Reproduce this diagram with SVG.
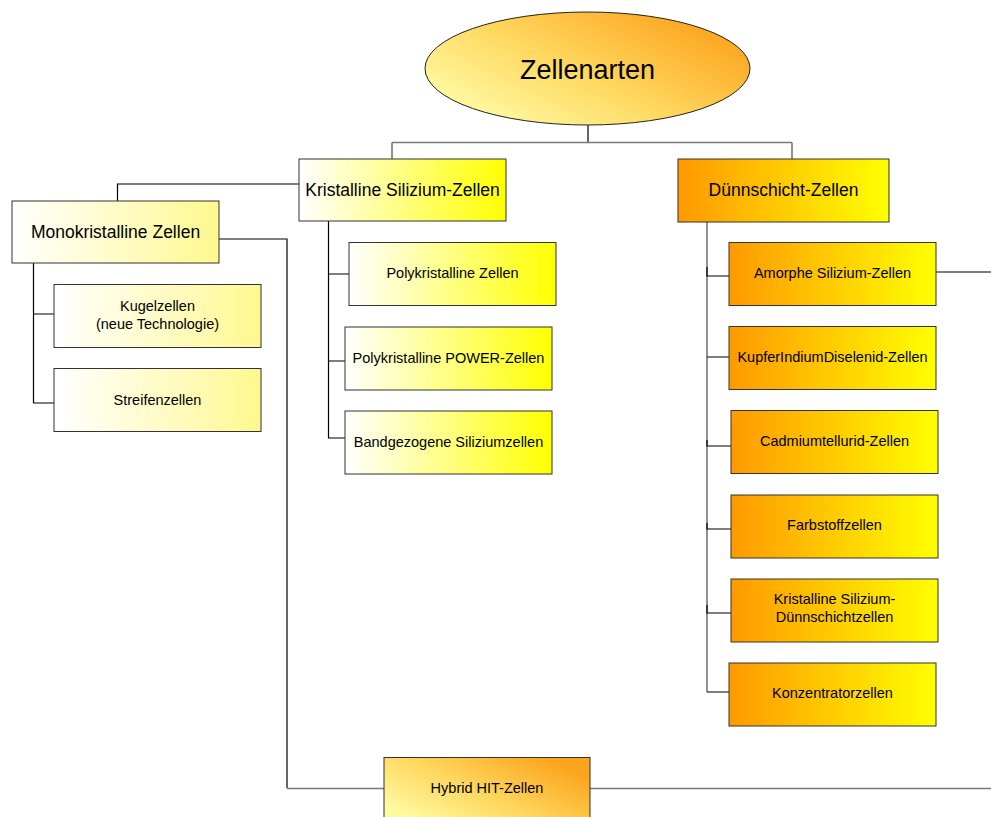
<svg xmlns="http://www.w3.org/2000/svg" width="991" height="817" viewBox="0 0 991 817">
<defs>
<linearGradient id="gBright" x1="0" y1="0" x2="1" y2="0">
<stop offset="0" stop-color="#FFFFFF"/><stop offset="1" stop-color="#FFFF00"/>
</linearGradient>
<linearGradient id="gPale" x1="0" y1="0" x2="1" y2="0">
<stop offset="0" stop-color="#FFFFFF"/><stop offset="1" stop-color="#FFF890"/>
</linearGradient>
<linearGradient id="gOrange" x1="0" y1="0" x2="1" y2="0">
<stop offset="0" stop-color="#FF9900"/><stop offset="1" stop-color="#FFFF00"/>
</linearGradient>
<linearGradient id="gSun" x1="0.05" y1="0.75" x2="0.9" y2="0.15">
<stop offset="0" stop-color="#FFF9A0"/><stop offset="0.45" stop-color="#FFD860"/><stop offset="1" stop-color="#FCA51E"/>
</linearGradient>
<style>
.box{stroke:#333;stroke-width:1}
.t{font-family:"Liberation Sans",Arial,sans-serif;fill:#000;text-anchor:middle}
.s{font-size:14.5px}
.m{font-size:17.5px}
.c{fill:none;stroke:#000;stroke-width:1.2}
.g{fill:none;stroke:#777;stroke-width:1.6}
</style>
</defs>
<g id="connectors">
<path class="c" d="M588,125 V142"/>
<path class="g" d="M392,142.5 H792 M392,142.5 V159 M792,142.5 V159"/>
<path class="c" d="M299,184 H117.5 V201"/>
<path class="c" d="M219,239 H287 V788"/>
<path class="g" d="M287,788.5 H384 M590,788.5 H991"/>
<path class="c" d="M33.5,263 V403 H54 M33.5,314 H54"/>
<path class="c" d="M328.5,221 V438 H345 M328.5,274 H349 M328.5,361 H345"/>
<path class="g" d="M707,222 V692"/>
<path class="c" d="M707,267 V276 H729 M707,357 H729 M707,440 V446 H731 M707,523 V529 H731 M707,605 V613 H731 M707,692 H729"/>
<path class="c" d="M936,272 H991"/>
</g>
<g id="root">
<ellipse cx="587.5" cy="68.5" rx="162.5" ry="56.5" fill="url(#gSun)" stroke="#222" stroke-width="1"/>
<text class="t" x="587.5" y="79" font-size="27">Zellenarten</text>
</g>
<g id="kristalline">
<rect class="box" x="299" y="159" width="207" height="62" fill="url(#gBright)"/>
<text class="t m" x="402.5" y="196">Kristalline Silizium-Zellen</text>
</g>
<g id="duennschicht">
<rect class="box" x="678" y="159" width="211" height="63" fill="url(#gOrange)"/>
<text class="t m" x="783.5" y="196">Dünnschicht-Zellen</text>
</g>
<g id="mono">
<rect class="box" x="12" y="201" width="207" height="62" fill="url(#gPale)"/>
<text class="t m" x="115.5" y="237.5">Monokristalline Zellen</text>
</g>
<g id="kugel">
<rect class="box" x="54" y="284.5" width="207" height="63" fill="url(#gPale)"/>
<text class="t s" x="157.5" y="311">Kugelzellen</text>
<text class="t s" x="157.5" y="328.5">(neue Technologie)</text>
</g>
<g id="streifen">
<rect class="box" x="54" y="368.5" width="207" height="63" fill="url(#gPale)"/>
<text class="t s" x="157.5" y="404.5">Streifenzellen</text>
</g>
<g id="poly">
<rect class="box" x="349" y="242.5" width="207" height="63" fill="url(#gBright)"/>
<text class="t s" x="452.5" y="278">Polykristalline Zellen</text>
</g>
<g id="power">
<rect class="box" x="345" y="327" width="207" height="63" fill="url(#gBright)"/>
<text class="t s" x="448.5" y="363">Polykristalline POWER-Zellen</text>
</g>
<g id="band">
<rect class="box" x="345" y="411" width="207" height="63" fill="url(#gBright)"/>
<text class="t s" x="448.5" y="447">Bandgezogene Siliziumzellen</text>
</g>
<g id="amorph">
<rect class="box" x="729" y="242.5" width="207" height="63" fill="url(#gOrange)"/>
<text class="t s" x="832.5" y="278">Amorphe Silizium-Zellen</text>
</g>
<g id="kupfer">
<rect class="box" x="729" y="326.5" width="207" height="63" fill="url(#gOrange)"/>
<text class="t s" x="832.5" y="362">KupferIndiumDiselenid-Zellen</text>
</g>
<g id="cadmium">
<rect class="box" x="731" y="410.5" width="207" height="63" fill="url(#gOrange)"/>
<text class="t s" x="834.5" y="446">Cadmiumtellurid-Zellen</text>
</g>
<g id="farbstoff">
<rect class="box" x="731" y="495" width="207" height="63" fill="url(#gOrange)"/>
<text class="t s" x="834.5" y="530">Farbstoffzellen</text>
</g>
<g id="kristdnn">
<rect class="box" x="731" y="579" width="207" height="63" fill="url(#gOrange)"/>
<text class="t s" x="834.5" y="604">Kristalline Silizium-</text>
<text class="t s" x="834.5" y="622">Dünnschichtzellen</text>
</g>
<g id="konzentrator">
<rect class="box" x="729" y="663" width="207" height="63" fill="url(#gOrange)"/>
<text class="t s" x="832.5" y="698">Konzentratorzellen</text>
</g>
<g id="hybrid">
<rect class="box" x="384" y="757.5" width="206" height="70" fill="url(#gSun)"/>
<text class="t s" x="487" y="793">Hybrid HIT-Zellen</text>
</g>
</svg>
